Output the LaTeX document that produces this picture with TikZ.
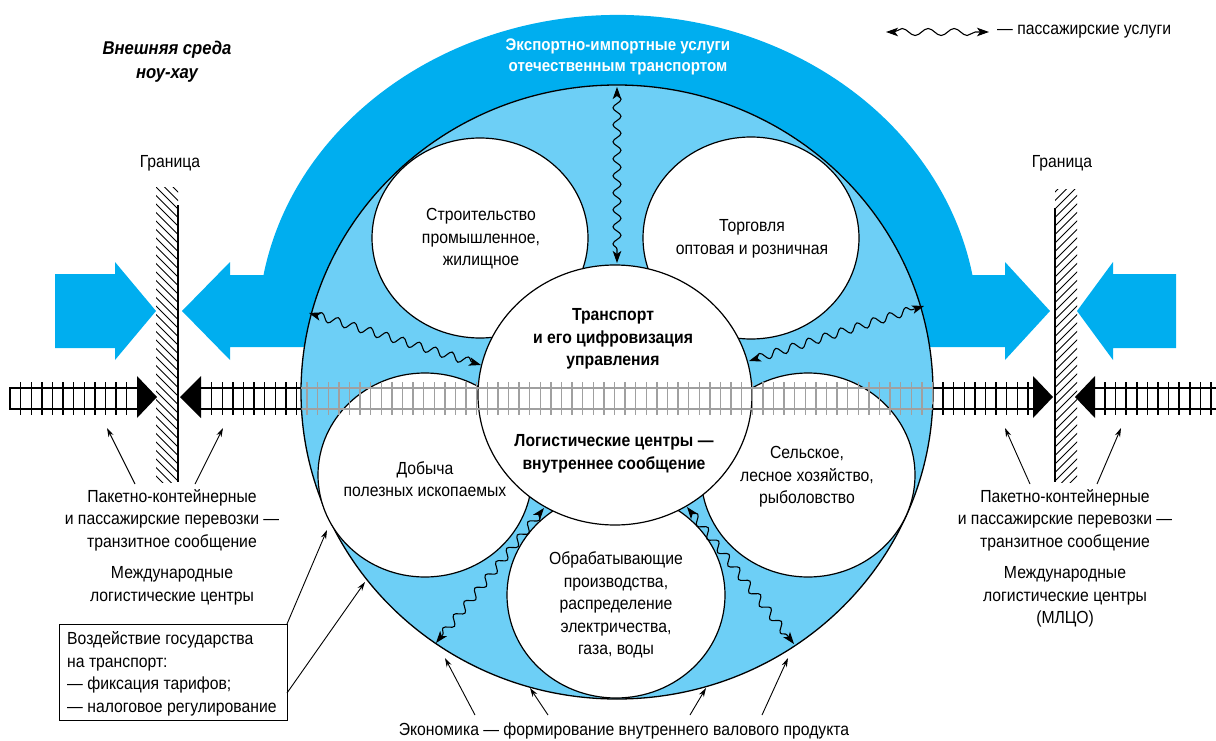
\documentclass[tikz,border=0pt]{standalone}
\usepackage{fontspec}
\setmainfont{Liberation Sans}[FakeStretch=0.9]
\usetikzlibrary{arrows.meta,decorations.pathmorphing,shapes.geometric}
\definecolor{dkblue}{HTML}{00AEEF}
\definecolor{ltblue}{HTML}{6DCFF6}
\definecolor{railgrey}{HTML}{A0A0A0}
\begin{document}
\begin{tikzpicture}[x=1pt,y=-1pt,
  txt/.style={inner sep=0pt, align=center, font=\fontsize{17.5}{22.5}\selectfont},
  bubble/.style={ellipse, draw=black, line width=1.2pt, fill=white, inner sep=0pt},
  thinarrow/.style={-{Stealth[length=9pt,width=5.5pt]}, line width=0.9pt},
  wavy/.style={{Stealth[length=12pt,width=8.5pt,inset=3pt]}-{Stealth[length=12pt,width=8.5pt,inset=3pt]},
     line width=1.1pt, decorate,
     decoration={snake, amplitude=4pt, segment length=17pt, pre length=7pt, post length=7pt}},
  railline/.style={line width=1.4pt},
  tie/.style={line width=1.5pt},
  hatch/.style={line width=0.8pt},
]
\useasboundingbox (0,0) rectangle (1216,741);

% ---------- border hatching ----------
\begin{scope}
  \clip (156,188) rectangle (178,482);
  \foreach \k in {0,...,40} \draw[hatch] (154,168+8.5*\k) -- (180,194+8.5*\k);
\end{scope}
\draw[line width=1.3pt] (178,205) -- (178,482);
\begin{scope}
  \clip (1055,190) rectangle (1077,482);
  \foreach \k in {0,...,40} \draw[hatch] (1053,194+8.5*\k) -- (1079,168+8.5*\k);
\end{scope}
\draw[line width=1.3pt] (1055,208) -- (1055,482);

% ---------- outer blue arrows ----------
\fill[dkblue] (55,274) -- (115,274) -- (115,262) -- (156,311) -- (115,360) -- (115,348) -- (55,348) -- cycle;
\fill[dkblue] (1176,274) -- (1113,274) -- (1113,262) -- (1077,311) -- (1113,360) -- (1113,348) -- (1176,348) -- cycle;

% ---------- arch ----------
\fill[dkblue] (230,275) -- (263.5,275)
   arc[start angle=190.05, end angle=349.95, x radius=360, y radius=315]
   -- (1005,275) -- (1005,262) -- (1050,311) -- (1005,360) -- (1005,347)
   -- (230,347) -- (230,360) -- (182,311) -- (230,262) -- cycle;

% ---------- black rails ----------
\draw[railline] (137,388) -- (10,388) -- (10,409) -- (137,409);
\foreach \x in {20.7,31.3,...,130} \draw[tie] (\x,382) -- (\x,415);
\draw[railline] (201,388) -- (1033,388) (201,409) -- (1033,409);
\foreach \x in {211.7,222.3,...,1028} \draw[tie] (\x,382) -- (\x,415);
\draw[railline] (1095,388) -- (1216,388) (1095,409) -- (1216,409);
\foreach \x in {1105,1115.6,...,1216} \draw[tie] (\x,382) -- (\x,415);
\fill (137,376) -- (157,397) -- (137,418) -- cycle;
\fill (201,376) -- (180,397) -- (201,418) -- cycle;
\fill (1033,376) -- (1053,397) -- (1033,418) -- cycle;
\fill (1095,376) -- (1075,397) -- (1095,418) -- cycle;

% ---------- big circle and bubbles ----------
\node[ellipse, draw=black, line width=1.3pt, fill=ltblue, inner sep=0pt,
      minimum width=632pt, minimum height=614pt] (big) at (617,392) {};
\node[bubble, minimum width=216pt, minimum height=200pt] (stroy) at (480,238) {};
\node[bubble, minimum width=216pt, minimum height=202pt] (torg) at (751,238) {};
\node[bubble, minimum width=214pt, minimum height=204pt] (dob) at (425,475) {};
\node[bubble, minimum width=214pt, minimum height=204pt] (selsk) at (808,475) {};
\node[bubble, minimum width=218pt, minimum height=206pt] (obr) at (616,595) {};
\node[bubble, minimum width=274pt, minimum height=260pt] (trans) at (615,395) {};

% ---------- grey rails inside the circle ----------
\begin{scope}
  \clip (617,392) ellipse[x radius=316, y radius=307];
  \draw[railline, railgrey] (201,388) -- (1033,388) (201,409) -- (1033,409);
  \foreach \x in {211.7,222.3,...,1028} \draw[tie, railgrey] (\x,382) -- (\x,415);
\end{scope}

% ---------- texts ----------
\node[txt, text=white, font=\fontsize{16.8}{21}\selectfont\bfseries] (title) at (618,57)
  {Экспортно-импортные услуги\\отечественным транспортом};
\node[txt, font=\fontsize{18.5}{24}\selectfont\bfseries\itshape] (ext) at (167,62)
  {Внешняя среда\\ноу-хау};
\node[txt] (granL) at (170,163) {Граница};
\node[txt] (granR) at (1062,163) {Граница};
\node[txt] (tStroy) at (481,239) {Строительство\\промышленное,\\жилищное};
\node[txt] (tTorg) at (752,239) {Торговля\\оптовая и розничная};
\node[txt, font=\fontsize{17.5}{22.5}\selectfont\bfseries] (tTrans) at (613,339)
  {Транспорт\\и его цифровизация\\управления};
\node[txt, font=\fontsize{17.5}{22.5}\selectfont\bfseries] (tLog) at (614,454)
  {Логистические центры —\\внутреннее сообщение};
\node[txt] (tDob) at (425,479) {Добыча\\полезных ископаемых};
\node[txt] (tSel) at (807,477) {Сельское,\\лесное хозяйство,\\рыболовство};
\node[txt] (tObr) at (616,605)
  {Обрабатывающие\\производства,\\распределение\\электричества,\\газа, воды};
\node[txt] (pkL) at (172,520) {Пакетно-контейнерные\\и пассажирские перевозки —\\транзитное сообщение};
\node[txt] (mlL) at (172,586) {Международные\\логистические центры};
\node[txt] (pkR) at (1065,520) {Пакетно-контейнерные\\и пассажирские перевозки —\\транзитное сообщение};
\node[txt] (mlR) at (1065,597) {Международные\\логистические центры\\(МЛЦО)};
\node[txt] (econ) at (624,731) {Экономика — формирование внутреннего валового продукта};
\node[txt, anchor=west] (legend) at (997,32) {— пассажирские услуги};

% ---------- state box ----------
\node[draw=black, line width=1.1pt, minimum width=228pt, minimum height=96pt,
      anchor=north west, inner sep=0pt] (box) at (59,624) {};
\node[txt, align=left, anchor=west] (boxtxt) at (67,674)
  {Воздействие государства\\на транспорт:\\— фиксация тарифов;\\— налоговое регулирование};

% ---------- coordinates for connectors ----------
\coordinate (aL1s) at (135,484); \coordinate (aL1e) at (107,428);
\coordinate (aL2s) at (195,484); \coordinate (aL2e) at (223,428);
\coordinate (aR1s) at (1030,484); \coordinate (aR1e) at (1005,428);
\coordinate (aR2s) at (1097,484); \coordinate (aR2e) at (1121,428);
\coordinate (bx1) at (287,624); \coordinate (bx1e) at (327,530);
\coordinate (bx2) at (287,693); \coordinate (bx2e) at (365,582);
\coordinate (e1s) at (475,715); \coordinate (e1e) at (445,658);
\coordinate (e2s) at (548,715); \coordinate (e2e) at (530,688);
\coordinate (e3s) at (690,715); \coordinate (e3e) at (706,688);
\coordinate (e4s) at (762,715); \coordinate (e4e) at (788,658);

\draw[thinarrow] (aL1s) -- (aL1e);
\draw[thinarrow] (aL2s) -- (aL2e);
\draw[thinarrow] (aR1s) -- (aR1e);
\draw[thinarrow] (aR2s) -- (aR2e);
\draw[thinarrow] (bx1) -- (bx1e);
\draw[thinarrow] (bx2) -- (bx2e);
\draw[thinarrow] (e1s) -- (e1e);
\draw[thinarrow] (e2s) -- (e2e);
\draw[thinarrow] (e3s) -- (e3e);
\draw[thinarrow] (e4s) -- (e4e);

% ---------- wavy passenger arrows ----------
\coordinate (w1a) at (617,87);  \coordinate (w1b) at (617,263);
\coordinate (w2a) at (309,313); \coordinate (w2b) at (481,365);
\coordinate (w3a) at (749,361); \coordinate (w3b) at (924,306);
\coordinate (w4a) at (544,508); \coordinate (w4b) at (436,643);
\coordinate (w5a) at (687,507); \coordinate (w5b) at (794,644);
\coordinate (lga) at (886,32);  \coordinate (lgb) at (989,32);
\draw[wavy] (w1a) -- (w1b);
\draw[wavy] (w2a) -- (w2b);
\draw[wavy] (w3a) -- (w3b);
\draw[wavy] (w4a) -- (w4b);
\draw[wavy] (w5a) -- (w5b);
\draw[wavy, decoration={snake, amplitude=3.5pt, segment length=26pt, pre length=8pt, post length=8pt}] (lga) -- (lgb);
\end{tikzpicture}
\end{document}
